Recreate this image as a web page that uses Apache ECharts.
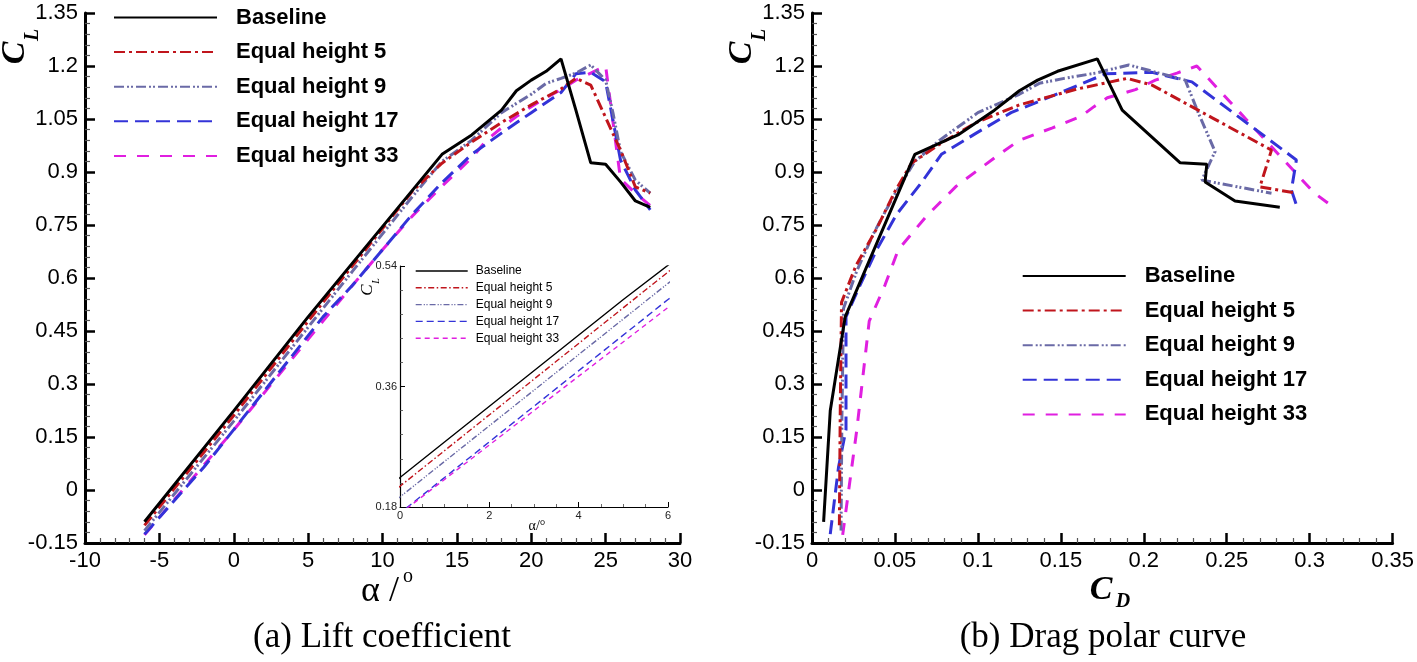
<!DOCTYPE html>
<html>
<head>
<meta charset="utf-8">
<script src="https://cdn.jsdelivr.net/npm/echarts@6/dist/echarts.min.js"></script>
<style>html,body{margin:0;padding:0;background:#fff}#chart{width:1417px;height:662px}</style>
</head>
<body>
<div id="chart"></div>
<script>
// ---------------- data ----------------
const seriesNames = ['Baseline', 'Equal height 5', 'Equal height 9', 'Equal height 17', 'Equal height 33'];

const alphaBaseline = [-6, 0, 5, 14, 16, 18, 19, 20, 21, 22, 23, 24, 25, 26, 27, 28];
const clBaseline    = [-0.09, 0.224, 0.49, 0.95, 1.005, 1.075, 1.13, 1.16, 1.185, 1.22, 1.075, 0.926, 0.922, 0.872, 0.818, 0.80];
const cdBaseline    = [0.007, 0.011, 0.020, 0.062, 0.088, 0.11, 0.125, 0.136, 0.148, 0.172, 0.187, 0.222, 0.238, 0.237, 0.255, 0.282];

const alphaEH5 = [-6, 0, 6, 8, 10, 12, 14, 16, 18, 20, 22, 23, 24, 25, 26, 27, 28];
const clEH5    = [-0.10, 0.211, 0.531, 0.635, 0.74, 0.845, 0.925, 0.985, 1.04, 1.09, 1.135, 1.165, 1.146, 1.054, 0.962, 0.858, 0.84];
const cdEH5    = [0.0165, 0.017, 0.0178, 0.0265, 0.039, 0.05, 0.06, 0.079, 0.099, 0.125, 0.16, 0.19, 0.205, 0.241, 0.277, 0.27, 0.292];

const alphaEH9 = [-6, 0, 6, 8, 10, 12, 14, 16, 18, 20, 21, 22, 23, 24, 25, 25.5, 26, 27, 28];
const clEH9    = [-0.115, 0.195, 0.514, 0.62, 0.725, 0.83, 0.93, 0.99, 1.068, 1.12, 1.151, 1.165, 1.18, 1.203, 1.16, 1.066, 0.958, 0.877, 0.84];
const cdEH9    = [0.0175, 0.018, 0.019, 0.027, 0.037, 0.049, 0.062, 0.077, 0.100, 0.125, 0.137, 0.152, 0.171, 0.191, 0.225, 0.233, 0.243, 0.235, 0.277];

const alphaEH17 = [-6, -2, 0, 6, 8, 10, 12, 14, 16, 18, 20, 22, 23, 24, 25, 26, 27, 28];
const clEH17    = [-0.125, 0.065, 0.171, 0.49, 0.58, 0.68, 0.78, 0.87, 0.95, 1.01, 1.068, 1.125, 1.178, 1.182, 1.155, 0.934, 0.849, 0.793];
const cdEH17    = [0.011, 0.016, 0.0205, 0.0205, 0.029, 0.039, 0.051, 0.066, 0.078, 0.099, 0.12, 0.15, 0.177, 0.205, 0.229, 0.292, 0.289, 0.293];

const alphaEH33 = [-6, 0, 6, 8, 10, 12, 14, 16, 17, 18, 19, 20, 21, 22, 23, 24, 25, 26, 27, 28];
const clEH33    = [-0.127, 0.17, 0.478, 0.58, 0.68, 0.775, 0.86, 0.94, 0.99, 1.025, 1.057, 1.085, 1.11, 1.133, 1.16, 1.18, 1.2, 0.88, 0.84, 0.805];
const cdEH33    = [0.0185, 0.027, 0.0345, 0.044, 0.052, 0.069, 0.087, 0.11, 0.125, 0.145, 0.162, 0.17, 0.178, 0.195, 0.207, 0.22, 0.232, 0.295, 0.303, 0.313];

// tick labels
const alphaTicks = [-10, -5, 0, 5, 10, 15, 20, 25, 30];
const clTicks = [-0.15, 0, 0.15, 0.3, 0.45, 0.6, 0.75, 0.9, 1.05, 1.2, 1.35];
const cdTicks = [0, 0.05, 0.1, 0.15, 0.2, 0.25, 0.3, 0.35];
const insetAlphaTicks = [0, 2, 4, 6];
const insetClTicks = [0.18, 0.36, 0.54];

// ---------------- styles ----------------
const allAlpha = [alphaBaseline, alphaEH5, alphaEH9, alphaEH17, alphaEH33];
const allCl = [clBaseline, clEH5, clEH9, clEH17, clEH33];
const allCd = [cdBaseline, cdEH5, cdEH9, cdEH17, cdEH33];
const colors = ['#000000', '#c0151c', '#6a6aa6', '#3333d8', '#e01fe0'];
const dashMain = ['solid', [11, 4, 3, 4], [10, 3, 2, 2, 2, 3], [14, 7], [12, 11]];
const dashInset = ['solid', [6, 2.5, 1.5, 2.5], [6, 2, 1.2, 1.5, 1.2, 2], [7, 4], [5, 4]];
const SANS = '"Liberation Sans", Arial, sans-serif';
const SERIF = '"Liberation Serif", "Times New Roman", serif';

function span(t) { return { min: t[0], max: t[t.length - 1], interval: t[1] - t[0] }; }
function fmt(v) { return String(parseFloat(v.toFixed(3))); }

function mainAxis(gridIndex, ticks) {
  const s = span(ticks);
  return {
    type: 'value', gridIndex: gridIndex, min: s.min, max: s.max, interval: s.interval,
    axisLine: { show: true, onZero: false, lineStyle: { color: '#000', width: 3 } },
    axisTick: { show: true, inside: true, length: 10, lineStyle: { color: '#000', width: 2.5 } },
    minorTick: { show: true, splitNumber: 5, length: 5, lineStyle: { color: '#555', width: 1.2 } },
    splitLine: { show: false }, minorSplitLine: { show: false },
    axisLabel: { color: '#000', fontSize: 22, fontFamily: SANS, margin: 7, formatter: fmt }
  };
}
function insetAxis(gridIndex, ticks, minorSplit) {
  const s = span(ticks);
  return {
    type: 'value', gridIndex: gridIndex, min: s.min, max: s.max, interval: s.interval,
    axisLine: { show: true, onZero: false, lineStyle: { color: '#000', width: 1.2 } },
    axisTick: { show: true, inside: true, length: 5, lineStyle: { color: '#000', width: 1 } },
    minorTick: { show: true, splitNumber: minorSplit, length: 3, lineStyle: { color: '#444', width: 0.8 } },
    splitLine: { show: false },
    axisLabel: { color: '#222', fontSize: 11, fontFamily: SANS, margin: 3, formatter: fmt }
  };
}

const series = [];
// lift curves
seriesNames.forEach((n, i) => {
  series.push({
    name: n, type: 'line', xAxisIndex: 0, yAxisIndex: 0, symbol: 'none', z: 10 - i,
    data: allAlpha[i].map((a, k) => [a, allCl[i][k]]),
    lineStyle: { color: colors[i], width: 3, type: dashMain[i] }, itemStyle: { color: colors[i] }
  });
});
// drag polar
seriesNames.forEach((n, i) => {
  series.push({
    name: n, type: 'line', xAxisIndex: 1, yAxisIndex: 1, symbol: 'none', z: 10 - i,
    data: allCd[i].map((c, k) => [c, allCl[i][k]]),
    lineStyle: { color: colors[i], width: 3, type: dashMain[i] }, itemStyle: { color: colors[i] }
  });
});
// inset
seriesNames.forEach((n, i) => {
  series.push({
    name: n, type: 'line', xAxisIndex: 2, yAxisIndex: 2, symbol: 'none', clip: true,
    data: allAlpha[i].map((a, k) => [a, allCl[i][k]]),
    lineStyle: { color: colors[i], width: 1.4, type: dashInset[i] }, itemStyle: { color: colors[i] }
  });
});

function bigLegend(left, top) {
  return {
    orient: 'vertical', left: left, top: top, itemWidth: 103, itemHeight: 14, itemGap: 12.6,
    selectedMode: false, itemStyle: { opacity: 0 },
    textStyle: { color: '#000', fontSize: 22, fontWeight: 'bold', fontFamily: SANS, padding: [0, 0, 0, 14] },
    data: seriesNames
  };
}

const option = {
  animation: false,
  backgroundColor: '#fff',
  grid: [
    { left: 85, top: 13, width: 595, height: 530 },
    { left: 812, top: 13, width: 583, height: 530 },
    { left: 400, top: 266, width: 268, height: 241 }
  ],
  xAxis: [mainAxis(0, alphaTicks), mainAxis(1, cdTicks), insetAxis(2, insetAlphaTicks, 4)],
  yAxis: [mainAxis(0, clTicks), mainAxis(1, clTicks), insetAxis(2, insetClTicks, 5)],
  legend: [
    bigLegend(108, 1.5),
    bigLegend(1016.7, 260),
    {
      orient: 'vertical', left: 410, top: 260, itemWidth: 52, itemHeight: 8, itemGap: 4.8,
      selectedMode: false, itemStyle: { opacity: 0 },
      textStyle: { color: '#000', fontSize: 12, fontFamily: SANS, padding: [0, 0, 0, 3] },
      data: seriesNames.map((n, i) => ({ name: n, lineStyle: { width: 1.4, type: dashInset[i], color: colors[i] } }))
    }
  ],
  graphic: [
    // left CL
    { type: 'text', x: 15, y: 53, rotation: Math.PI / 2, style: { text: 'C', font: 'italic bold 34px ' + SERIF, fill: '#000', textAlign: 'center', textVerticalAlign: 'middle' } },
    { type: 'text', x: 33, y: 35, rotation: Math.PI / 2, style: { text: 'L', font: 'italic bold 20px ' + SERIF, fill: '#000', textAlign: 'center', textVerticalAlign: 'middle' } },
    // right CL
    { type: 'text', x: 742, y: 53, rotation: Math.PI / 2, style: { text: 'C', font: 'italic bold 34px ' + SERIF, fill: '#000', textAlign: 'center', textVerticalAlign: 'middle' } },
    { type: 'text', x: 760, y: 35, rotation: Math.PI / 2, style: { text: 'L', font: 'italic bold 20px ' + SERIF, fill: '#000', textAlign: 'center', textVerticalAlign: 'middle' } },
    // inset CL
    { type: 'text', x: 368, y: 290, rotation: Math.PI / 2, style: { text: 'C', font: 'italic 17px ' + SERIF, fill: '#000', textAlign: 'center', textVerticalAlign: 'middle' } },
    { type: 'text', x: 376, y: 281, rotation: Math.PI / 2, style: { text: 'L', font: 'italic 10px ' + SERIF, fill: '#000', textAlign: 'center', textVerticalAlign: 'middle' } },
    // alpha title (main)
    { type: 'text', x: 380, y: 592, style: { text: 'α /', font: '36px ' + SERIF, fill: '#000', textAlign: 'center', textVerticalAlign: 'middle' } },
    { type: 'text', x: 408, y: 577, style: { text: 'o', font: '20px ' + SERIF, fill: '#000', textAlign: 'center', textVerticalAlign: 'middle' } },
    // inset alpha title
    { type: 'text', x: 537, y: 526, style: { text: 'α/°', font: '14px ' + SERIF, fill: '#000', textAlign: 'center', textVerticalAlign: 'middle' } },
    // CD title
    { type: 'text', x: 1101, y: 590, style: { text: 'C', font: 'italic bold 34px ' + SERIF, fill: '#000', textAlign: 'center', textVerticalAlign: 'middle' } },
    { type: 'text', x: 1123, y: 602, style: { text: 'D', font: 'italic bold 20px ' + SERIF, fill: '#000', textAlign: 'center', textVerticalAlign: 'middle' } },
    // captions
    { type: 'text', x: 382, y: 638, style: { text: '(a) Lift coefficient', font: '35px ' + SERIF, fill: '#000', textAlign: 'center', textVerticalAlign: 'middle' } },
    { type: 'text', x: 1103, y: 638, style: { text: '(b) Drag polar curve', font: '35px ' + SERIF, fill: '#000', textAlign: 'center', textVerticalAlign: 'middle' } }
  ],
  series: series
};

const chart = echarts.init(document.getElementById('chart'), null, { renderer: 'canvas' });
chart.setOption(option);
</script>
</body>
</html>
